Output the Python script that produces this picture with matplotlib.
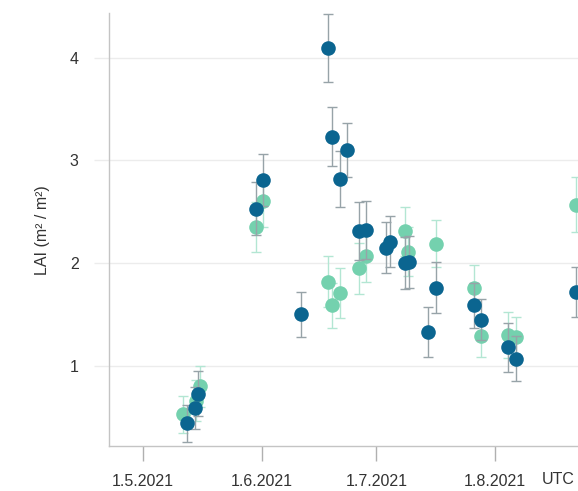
import numpy as np
import pandas as pd
import matplotlib
matplotlib.use("Agg")
import matplotlib.pyplot as plt

plt.rcParams['font.family'] = ['Liberation Sans', 'DejaVu Sans']

# serie foncee
dark_dates = ["2021-05-12 10:00", "2021-05-14 14:00", "2021-05-15 10:00",
              "2021-05-30 12:00", "2021-06-01 10:00", "2021-06-11 10:00",
              "2021-06-18 10:00", "2021-06-19 10:00", "2021-06-21 10:00",
              "2021-06-23 10:00", "2021-06-26 10:00", "2021-06-28 10:00",
              "2021-07-03 10:00", "2021-07-04 17:00", "2021-07-08 10:00",
              "2021-07-09 10:00", "2021-07-14 12:00", "2021-07-16 12:00",
              "2021-07-26 12:00", "2021-07-28 07:00", "2021-08-04 12:00",
              "2021-08-06 10:00", "2021-08-22 05:00"]
dark_lai = [0.44, 0.59, 0.73, 2.53, 2.81, 1.50, 4.09, 3.23, 2.82, 3.10, 2.31, 2.32,
            2.15, 2.21, 2.00, 2.01, 1.33, 1.76, 1.59, 1.45, 1.18, 1.07, 1.72]
dark_err = [0.18, 0.2, 0.22, 0.26, 0.25, 0.22, 0.33, 0.29, 0.27, 0.26, 0.28, 0.28,
            0.25, 0.25, 0.25, 0.25, 0.24, 0.25, 0.22, 0.2, 0.24, 0.22, 0.24]

# serie claire
light_dates = ["2021-05-11 12:00", "2021-05-14 20:00", "2021-05-15 20:00",
               "2021-05-30 12:00", "2021-06-01 10:00", "2021-06-18 10:00",
               "2021-06-19 10:00", "2021-06-21 10:00", "2021-06-26 10:00",
               "2021-06-28 10:00", "2021-07-08 10:00", "2021-07-09 08:00",
               "2021-07-16 12:00", "2021-07-26 12:00", "2021-07-28 10:00",
               "2021-08-04 12:00", "2021-08-06 10:00", "2021-08-22 05:00"]
light_lai = [0.53, 0.66, 0.80, 2.35, 2.60, 1.82, 1.59, 1.71, 1.95, 2.07,
             2.31, 2.11, 2.19, 1.76, 1.29, 1.30, 1.28, 2.57]
light_err = [0.18, 0.2, 0.2, 0.24, 0.25, 0.25, 0.22, 0.24, 0.25, 0.25,
             0.24, 0.24, 0.23, 0.22, 0.2, 0.22, 0.2, 0.27]

tick_dates = ["2021-05-01", "2021-06-01", "2021-07-01", "2021-08-01"]
tick_labels = ["1.5.2021", "1.6.2021", "1.7.2021", "1.8.2021"]

dark_x = pd.to_datetime(dark_dates)
light_x = pd.to_datetime(light_dates)

fig = plt.figure(figsize=(5.78, 4.91), dpi=100)
ax = fig.add_axes([0.189, 0.0917, 0.811, 0.881])

# barres d'erreur puis les points par dessus
ax.errorbar(light_x, light_lai, yerr=light_err, fmt='none',
            ecolor='#b3e6d3', elinewidth=1, capsize=3.5, capthick=1, zorder=2)
ax.plot(light_x, light_lai, 'o', color='#74d1ae', markersize=10.5,
        markeredgewidth=0, zorder=2.5)
ax.errorbar(dark_x, dark_lai, yerr=dark_err, fmt='none',
            ecolor='#97a3a8', elinewidth=1, capsize=3.5, capthick=1, zorder=3)
ax.plot(dark_x, dark_lai, 'o', color='#0b6590', markersize=10.5,
        markeredgewidth=0, zorder=3.5)

ax.set_xlim(pd.Timestamp("2021-04-22 05:00"), pd.Timestamp("2021-08-22 17:00"))
ax.set_ylim(0.22, 4.43)
ax.set_xticks(pd.to_datetime(tick_dates))
ax.set_xticklabels(tick_labels)
ax.set_yticks([1, 2, 3, 4])

ax.grid(axis='y', color='#ececec', linewidth=1)
ax.set_axisbelow(True)
for s in ['top', 'right']:
    ax.spines[s].set_visible(False)
for s in ['left', 'bottom']:
    ax.spines[s].set_color('#c4c4c4')
    ax.spines[s].set_linewidth(1)

ax.tick_params(axis='x', length=11, width=1, color='#b0b0b0', pad=9,
               labelsize=11.5, labelcolor='#333333')
ax.tick_params(axis='y', length=11, width=1, color='#ececec', pad=11,
               labelsize=11.5, labelcolor='#333333')

ax.set_ylabel("LAI (m² / m²)", fontsize=11.5, color='#333333', labelpad=14)
fig.text(558 / 578, 1 - 480 / 491, "UTC", fontsize=11.5, color='#333333',
         ha='center', va='center')

plt.savefig("out.png", dpi=100)
